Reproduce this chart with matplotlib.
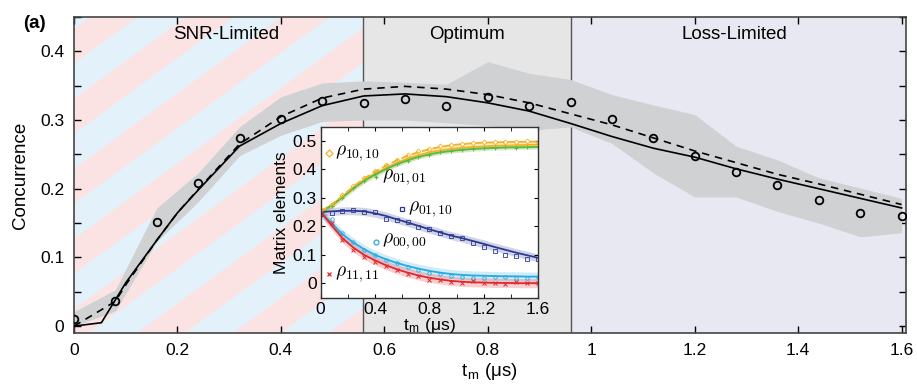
import matplotlib
matplotlib.use("Agg")
import matplotlib.pyplot as plt
from matplotlib.patches import Polygon, Rectangle
import numpy as np

plt.rcParams['font.family'] = ['Liberation Sans', 'DejaVu Sans']
plt.rcParams['mathtext.fontset'] = 'cm'

# ---- main panel data ----
t_meas = [0.00, 0.08, 0.16, 0.24, 0.32, 0.40, 0.48, 0.56, 0.64, 0.72, 0.80,
          0.88, 0.96, 1.04, 1.12, 1.20, 1.28, 1.36, 1.44, 1.52, 1.60]
conc_meas = [0.011, 0.037, 0.151, 0.208, 0.274, 0.302, 0.328, 0.325, 0.331, 0.321, 0.333,
             0.321, 0.326, 0.302, 0.274, 0.247, 0.224, 0.205, 0.184, 0.164, 0.161]
band_hi = [0.021, 0.053, 0.172, 0.223, 0.290, 0.334, 0.354, 0.357, 0.355, 0.352, 0.385,
           0.368, 0.359, 0.337, 0.322, 0.308, 0.262, 0.242, 0.216, 0.201, 0.186]
band_lo = [0.000, 0.022, 0.123, 0.181, 0.248, 0.278, 0.298, 0.300, 0.300, 0.296, 0.292,
           0.285, 0.290, 0.266, 0.223, 0.188, 0.188, 0.167, 0.150, 0.130, 0.136]

t_sim = [0.0, 0.053, 0.10, 0.16, 0.20, 0.24, 0.32, 0.40, 0.48, 0.56, 0.64, 0.72,
         0.80, 0.88, 0.96, 1.04, 1.12, 1.20, 1.28, 1.36, 1.44, 1.52, 1.60]
conc_sim = [0.0, 0.005, 0.063, 0.125, 0.165, 0.198, 0.262, 0.295, 0.321, 0.335, 0.338, 0.334,
            0.325, 0.313, 0.295, 0.276, 0.259, 0.246, 0.229, 0.214, 0.200, 0.186, 0.172]
t_ideal = [0.0, 0.08, 0.10, 0.16, 0.20, 0.24, 0.32, 0.40, 0.48, 0.56, 0.64, 0.72,
           0.80, 0.88, 0.96, 1.04, 1.12, 1.20, 1.28, 1.36, 1.44, 1.52, 1.60]
conc_ideal = [0.0, 0.036, 0.060, 0.125, 0.165, 0.199, 0.265, 0.305, 0.332, 0.345, 0.349, 0.345,
              0.337, 0.325, 0.309, 0.293, 0.274, 0.255, 0.238, 0.221, 0.207, 0.192, 0.177]

regions = ["SNR-Limited", "Optimum", "Loss-Limited"]
region_edges = [0.0, 0.558, 0.96, 1.608]
region_label_x = [0.295, 0.76, 1.277]

# ---- inset data ----
t_in = [0.00, 0.08, 0.16, 0.24, 0.32, 0.40, 0.48, 0.56, 0.64, 0.72, 0.80,
        0.88, 0.96, 1.04, 1.12, 1.20, 1.28, 1.36, 1.44, 1.52, 1.60]
r1010_fit = [0.25, 0.273, 0.303, 0.335, 0.362, 0.384, 0.404, 0.422, 0.437, 0.449, 0.459,
             0.466, 0.471, 0.475, 0.478, 0.480, 0.482, 0.483, 0.484, 0.485, 0.486]
r1010_ideal = [0.25, 0.275, 0.306, 0.339, 0.367, 0.391, 0.412, 0.431, 0.447, 0.460, 0.470,
               0.478, 0.484, 0.488, 0.491, 0.493, 0.494, 0.495, 0.496, 0.496, 0.497]
r0101_fit = [0.25, 0.272, 0.301, 0.332, 0.359, 0.381, 0.400, 0.417, 0.431, 0.443, 0.452,
             0.459, 0.464, 0.468, 0.471, 0.473, 0.475, 0.476, 0.477, 0.477, 0.478]
r0110_fit = [0.25, 0.252, 0.254, 0.254, 0.252, 0.245, 0.236, 0.224, 0.213, 0.201, 0.189,
             0.178, 0.167, 0.158, 0.148, 0.138, 0.127, 0.117, 0.107, 0.098, 0.089]
r0000_fit = [0.25, 0.210, 0.172, 0.143, 0.119, 0.099, 0.084, 0.071, 0.060, 0.051, 0.043,
             0.037, 0.032, 0.029, 0.027, 0.026, 0.025, 0.024, 0.024, 0.023, 0.023]
r1111_fit = [0.25, 0.203, 0.158, 0.125, 0.099, 0.080, 0.063, 0.049, 0.037, 0.027, 0.019,
             0.013, 0.008, 0.005, 0.003, 0.002, 0.001, 0.001, 0.000, 0.000, 0.000]

r1010_pts = [0.25, 0.276, 0.309, 0.340, 0.370, 0.393, 0.414, 0.433, 0.449, 0.462, 0.471,
             0.480, 0.486, 0.489, 0.492, 0.494, 0.495, 0.497, 0.496, 0.498, 0.497]
r0101_pts = [0.25, 0.270, 0.300, 0.333, 0.358, 0.382, 0.399, 0.418, 0.430, 0.444, 0.451,
             0.460, 0.463, 0.469, 0.470, 0.474, 0.474, 0.477, 0.476, 0.478, 0.477]
r0110_pts = [0.243, 0.245, 0.254, 0.255, 0.251, 0.248, 0.226, 0.220, 0.215, 0.198, 0.190,
             0.176, 0.165, 0.160, 0.142, 0.128, 0.112, 0.100, 0.095, 0.085, 0.086]
r0000_pts = [0.245, 0.225, 0.175, 0.145, 0.115, 0.100, 0.082, 0.070, 0.058, 0.045, 0.035,
             0.033, 0.025, 0.022, 0.018, 0.018, 0.020, 0.020, 0.017, 0.018, 0.021]
r1111_pts = [0.245, 0.210, 0.150, 0.118, 0.092, 0.075, 0.060, 0.045, 0.032, 0.025, 0.012,
             0.012, 0.005, 0.002, 0.006, 0.001, 0.002, -0.004, 0.003, 0.001, 0.002]

fig = plt.figure(figsize=(9.17, 3.84), dpi=100)
ax = fig.add_axes([0.0807, 0.1328, 0.907, 0.823])
xmin, xmax, ymin, ymax = 0.0, 1.608, -0.01, 0.45
ax.set_xlim(xmin, xmax)
ax.set_ylim(ymin, ymax)

# background regions
ax.axvspan(region_edges[0], region_edges[1], color='#e3f1fa', lw=0, zorder=0)
ax.axvspan(region_edges[1], region_edges[2], color='#e6e6e6', lw=0, zorder=0)
ax.axvspan(region_edges[2], region_edges[3], color='#e8e8f2', lw=0, zorder=0)

# diagonal pink stripes in the SNR region (built in pixel space, then to data)
W = 0.907 * 917
H = 0.823 * 384
sx = W / (xmax - xmin)
sy = H / (ymax - ymin)
slope = 0.73
clip = Rectangle((region_edges[0], ymin), region_edges[1] - region_edges[0], ymax - ymin,
                 transform=ax.transData)
for c in np.arange(63 - 96 * 6, region_edges[1] * sx + 96, 96):
    pts = [(c, 0), (c + 48, 0), (c + 48 + H / slope, H), (c + H / slope, H)]
    pts = [(xmin + px / sx, ymin + py / sy) for px, py in pts]
    p = Polygon(pts, closed=True, color='#fbe3e4', lw=0, zorder=0.5)
    ax.add_patch(p)
    p.set_clip_path(clip)

for xe in region_edges[1:3]:
    ax.axvline(xe, color='#555555', lw=1.0, zorder=1)

ax.fill_between(t_meas, band_lo, band_hi, color='#cfd1d2', lw=0, zorder=2)
ax.plot(t_sim, conc_sim, color='black', lw=1.2, zorder=3)
ax.plot(t_ideal, conc_ideal, color='black', lw=1.2, ls=(0, (4.5, 3.5)), zorder=3)
ax.plot(t_meas, conc_meas, 'o', mfc='none', mec='black', ms=5.5, mew=1.3, zorder=4)

for name, xc in zip(regions, region_label_x):
    ax.text(xc, 0.425, name, ha='center', va='center', fontsize=13.5)

ax.set_xticks(np.arange(0, 1.61, 0.2))
ax.set_xticklabels(['0', '0.2', '0.4', '0.6', '0.8', '1', '1.2', '1.4', '1.6'])
ax.set_yticks([0, 0.1, 0.2, 0.3, 0.4])
ax.set_yticklabels(['0', '0.1', '0.2', '0.3', '0.4'])
ax.set_yticks(np.arange(0, 0.451, 0.05), minor=True)
ax.tick_params(direction='in', top=True, right=True, labelsize=12.5, length=5, width=1, pad=7)
ax.tick_params(which='minor', direction='in', right=True, left=True, length=5, width=1)
for s in ax.spines.values():
    s.set_color('#444444')
    s.set_linewidth(1.2)
ax.set_xlabel(r't$_\mathregular{m}$ (μs)', fontsize=13.5, labelpad=2)
ax.set_ylabel('Concurrence', fontsize=13.5, labelpad=8)
fig.text(0.025, 0.94, '(a)', fontsize=13.5, fontweight='bold', va='center')

# ---- inset ----
ins = fig.add_axes([0.3497, 0.224, 0.237, 0.4453])
ins.set_facecolor('white')
ins.set_zorder(5)
ins.set_xlim(0, 1.6)
ins.set_ylim(-0.052, 0.548)

series = [
    (r1010_fit, r1010_pts, '#f4b223', 'D', 0.012),
    (r0101_fit, r0101_pts, '#57b947', '+', 0.008),
    (r0110_fit, r0110_pts, '#2e3a92', 's', 0.014),
    (r0000_fit, r0000_pts, '#28a9e1', 'o', 0.016),
    (r1111_fit, r1111_pts, '#e2262b', 'x', 0.016),
]
for fit, pts, col, mk, w in series:
    lo = [v - w for v in fit]
    hi = [v + w for v in fit]
    ins.fill_between(t_in, lo, hi, color=col, alpha=0.22, lw=0)
    ins.plot(t_in, fit, color=col, lw=1.3)
    if mk in ('+', 'x'):
        ins.plot(t_in, pts, mk, color=col, ms=2.5, mew=0.7)
    else:
        ins.plot(t_in, pts, mk, mfc='none', mec=col, ms=2.5, mew=0.6)
ins.plot(t_in, r1010_ideal, color='#f4b223', lw=1.3, ls=(0, (4, 2)))

labels = [
    (0.063, 0.455, r'$\rho_{10,10}$', '#f4b223', 'D'),
    (0.407, 0.372, r'$\rho_{01,01}$', '#57b947', '+'),
    (0.596, 0.260, r'$\rho_{01,10}$', '#2e3a92', 's'),
    (0.407, 0.146, r'$\rho_{00,00}$', '#28a9e1', 'o'),
    (0.063, 0.033, r'$\rho_{11,11}$', '#e2262b', 'x'),
]
for lx, ly, txt, col, mk in labels:
    if mk in ('+', 'x'):
        ins.plot([lx], [ly], mk, color=col, ms=3.5, mew=0.9)
    else:
        ins.plot([lx], [ly], mk, mfc='none', mec=col, ms=3.5, mew=0.9)
    ins.text(lx + 0.045, ly, txt, fontsize=14, va='center', ha='left')

ins.set_xticks([0, 0.4, 0.8, 1.2, 1.6])
ins.set_xticklabels(['0', '0.4', '0.8', '1.2', '1.6'])
ins.set_xticks(np.arange(0, 1.61, 0.2), minor=True)
ins.set_yticks([0, 0.1, 0.2, 0.3, 0.4, 0.5])
ins.set_yticklabels(['0', '0.1', '0.2', '0.3', '0.4', '0.5'])
ins.tick_params(direction='in', top=True, right=True, labelsize=12.5, length=3, pad=3)
ins.tick_params(which='minor', direction='in', top=True, length=3)
for s in ins.spines.values():
    s.set_color('#333333')
    s.set_linewidth(1.0)
ins.set_xlabel(r't$_\mathregular{m}$ (μs)', fontsize=12.5, labelpad=-1)
ins.set_ylabel('Matrix elements', fontsize=12.5, labelpad=2)

fig.savefig('out.png', dpi=100)
